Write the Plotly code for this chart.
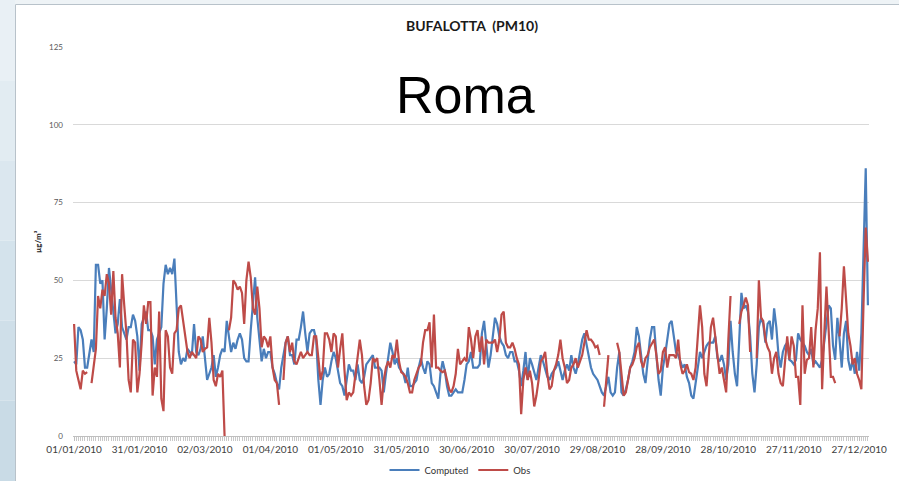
import pandas as pd
import plotly.graph_objects as go

# Daily PM10 concentrations (µg/m³) for 2010 at the Bufalotta station
dates = pd.date_range("2010-01-01", "2010-12-31", freq="D")

computed = [
    # Jan 1 - Feb 11
    24, 23, 35, 34, 31, 22, 22, 27, 31, 27, 55, 55, 49, 50, 31, 41, 54, 47, 39, 33,
    36, 44, 35, 33, 31, 35, 35, 39, 37, 32, 21, 36, 38, 40, 34, 34, 32, 23, 31, 33,
    35, 49,
    # Feb 12 - Mar 31
    55, 52, 54, 52, 57, 42, 27, 23, 25, 24, 28, 27, 26, 36, 27, 26, 28, 32, 25, 18,
    20, 22, 26, 19, 22, 26, 28, 27, 37, 32, 27, 30, 28, 31, 33, 31, 25, 24, 24, 34,
    43, 51, 38, 31, 24, 28, 25, 27,
    # Apr 1 - May 19
    27, 22, 20, 17, 15, 22, 26, 30, 32, 26, 26, 23, 31, 31, 35, 40, 33, 27, 33, 34,
    34, 31, 18, 10, 18, 22, 19, 20, 24, 27, 25, 21, 17, 16, 13, 18, 23, 21, 21, 18,
    23, 18, 17, 19, 23, 24, 25, 26, 22,
    # May 20 - Jul 6
    22, 22, 21, 14, 20, 25, 30, 27, 23, 25, 22, 21, 20, 17, 22, 16, 16, 17, 18, 22,
    25, 22, 20, 24, 23, 17, 16, 14, 12, 20, 24, 21, 16, 13, 13, 14, 15, 14, 14, 14,
    18, 23, 24, 27, 22, 22, 22, 23,
    # Jul 7 - Aug 24
    33, 37, 30, 22, 26, 32, 38, 36, 32, 30, 29, 26, 25, 27, 27, 24, 24, 21, 16, 21,
    27, 18, 25, 23, 20, 18, 22, 26, 24, 21, 19, 18, 20, 21, 22, 24, 21, 18, 21, 23,
    21, 26, 22, 20, 23, 27, 31, 33, 29,
    # Aug 25 - Oct 12
    26, 22, 20, 19, 18, 16, 14, 13, 16, 19, 14, 13, 14, 22, 27, 14, 13, 15, 18, 22,
    24, 27, 35, 32, 26, 20, 17, 24, 31, 35, 35, 26, 18, 13, 22, 26, 31, 36, 37, 31,
    27, 26, 24, 22, 23, 19, 17, 13, 12,
    # Oct 13 - Nov 24
    17, 22, 27, 25, 27, 29, 30, 30, 30, 32, 25, 24, 26, 23, 18, 23, 37, 27, 20, 16,
    31, 46, 41, 42, 40, 32, 20, 14, 23, 35, 38, 36, 30, 36, 37, 31, 41, 35, 26, 22,
    27, 29, 30,
    # Nov 25 - Dec 31
    24.5, 24, 23, 24.5, 33, 31, 30, 29, 27, 26, 28, 23, 24, 23, 22, 24.5, 31, 37, 42, 41,
    29, 24.5, 38, 31, 22, 33, 37, 24.5, 21, 24.5, 20, 27, 21, 33, 57, 86, 42,
]

obs = [
    # Jan 1 - Feb 11
    36, 21, 18, 15, 21, 20, 20.5, None, 17, 22, 28, 45, 41, 47, 45, 52, 49, 39, 53, 38,
    33, 22, 52, 42, 33, 18, 14, 31, 30, 14, 20, 30, 42, 36, 43, 43, 13, 22, 19, 40,
    12, 8,
    # Feb 12 - Mar 31
    34, 32, 22, 20, 33, 34, 41, 42, 37, 32, 27, 25, 27, 26, 25, 32, 31, 27, 28, 28.5,
    38, 30, 18, 16, 20, 19, 21, 0, None, 34, 38, 50, 49, 47, 48, 46, 36, 50, 56, 51,
    41, 39, 48, 41, 28.5, 32, 31, 28.5,
    # Apr 1 - May 19
    32, 22, 18, 17, 10, None, 18, 30, 32, 27, 30, 24, 23, 25, 27, 25, 26, 27, 26, 26,
    32, 32, 25, 18, 21, 33, 33, 31, 27, 33, 32, 22, 28, 33, 21, 11.5, 14, 13, 14, 20,
    26, 31, 26, 16, 10, 11.5, 17, 25, 24,
    # May 20 - Jul 6
    25, 18, 10, 18, 22, 24, 22, 26, 25, 31, 24, 20.5, 20, 19, 17, 14, 14, 18, 20, 22,
    23, 30, 34, 34, 36.5, 22, 39, 22, 22, 21, 20.5, 21, 18, 15, 14, 16, 20, 28, 23, 24,
    25, 24, 35, 31, 25, 32, 34, 27,
    # Jul 7 - Aug 24
    32, 23, 31, 30, 30, 30, 31, 27, 31, 39, 40, 30, 28.5, 28.5, 30, 28, 25, 23, 7, 18,
    22, 18, 21, 17, 9.5, 13, 18, 24, 25, 27, 20, 15, 16, 21, 23, 26, 31, 25, 22, 17,
    18, 22, 23, 25, 22, 24, 26, 30, 34,
    # Aug 25 - Oct 12
    31, 31, 30, 28.5, 29, 26, None, 9.4, 19, 26, None, None, None, 30, 27, 20, 13, 14, 18, 22,
    23, 25, 28.5, 30, 24, 22, 25, 26, 28.5, 30, 31, 26, 20, 21, 27, 28.5, 22, 26, 26, 26,
    25, 31, 23, 20, 21, 23, 20.5, 20, 18,
    # Oct 13 - Nov 24
    22, 32, 42, 35, 20, 16, 26, 35, 38, 31, 26, 20, 22, 18, 14, 31, 45, None, None, None,
    36, 40, 42, 44.5, 42, 27, None, None, 25, 50, 38, 37, 31, 28.5, 27, 20, 25, 27, 20, 17,
    16, 24, 32,
    # Nov 25 - Dec 31
    24.5, 32, 29, 19, 19, 10, 42, 20, 24.5, 25, 35, 22, 34, 41, 59, 15, 33, 48, 34, 19,
    19, 17, None, 32, 41, 54.5, 43, 33, 29, 23, 25, 20, 18, 15, 43, 67, 56,
]

tick_labels = [
    "01/01/2010", "31/01/2010", "02/03/2010", "01/04/2010", "01/05/2010",
    "31/05/2010", "30/06/2010", "30/07/2010", "29/08/2010", "28/09/2010",
    "28/10/2010", "27/11/2010", "27/12/2010",
]
tick_dates = [pd.to_datetime(t, format="%d/%m/%Y") for t in tick_labels]

# Canvas geometry (pixels)
W, H = 899, 481
L, R, T, B = 73, 30, 47, 45


def fx(px):
    return (px - L) / (W - L - R)


def fy(py):
    return (H - B - py) / (H - T - B)


fig = go.Figure()
fig.add_trace(go.Scatter(
    x=dates, y=computed, name="Computed", mode="lines",
    line=dict(color="#4a7ebb", width=2.2), connectgaps=False,
))
fig.add_trace(go.Scatter(
    x=dates, y=obs, name="Obs", mode="lines",
    line=dict(color="#be4b48", width=2.2), connectgaps=False,
))

# slide frame: light blue strip on the left, thin strip on top, grey border
shapes = []
strip_cols = ["#e9f0f5", "#e2ecf2", "#dbe7ef", "#d4e3ec", "#cfdfe9", "#c9dbe6"]
n = len(strip_cols)
for i, c in enumerate(strip_cols):
    shapes.append(dict(type="rect", xref="paper", yref="paper",
                       x0=fx(0), x1=fx(15), y0=fy(H * i / n), y1=fy(H * (i + 1) / n),
                       fillcolor=c, line=dict(width=0), layer="below"))
shapes.append(dict(type="rect", xref="paper", yref="paper",
                   x0=fx(15), x1=fx(W), y0=fy(0), y1=fy(4),
                   fillcolor="#eef3f6", line=dict(width=0), layer="below"))
shapes.append(dict(type="line", xref="paper", yref="paper",
                   x0=fx(15.5), x1=fx(15.5), y0=fy(4.5), y1=fy(H),
                   line=dict(color="#b8c2ca", width=1)))
shapes.append(dict(type="line", xref="paper", yref="paper",
                   x0=fx(15.5), x1=fx(W), y0=fy(4.5), y1=fy(4.5),
                   line=dict(color="#b8c2ca", width=1)))

annotations = [
    dict(text="<b>BUFALOTTA  (PM10)</b>", xref="paper", yref="paper",
         x=fx(472), y=fy(25), xanchor="center", yanchor="middle", showarrow=False,
         font=dict(family="Lato", size=14, color="#1a1a1a")),
    dict(text="Roma", xref="paper", yref="paper",
         x=fx(465), y=fy(95), xanchor="center", yanchor="middle", showarrow=False,
         font=dict(family="Liberation Sans", size=52, color="#000000")),
    dict(text="<b>µg/m³</b>", xref="paper", yref="paper",
         x=fx(38), y=fy(242), xanchor="center", yanchor="middle", showarrow=False,
         textangle=-90, font=dict(family="Lato", size=8, color="#1a1a1a")),
]

fig.update_layout(
    width=W, height=H,
    margin=dict(l=L, r=R, t=T, b=B, autoexpand=False),
    paper_bgcolor="white", plot_bgcolor="white",
    shapes=shapes, annotations=annotations,
    showlegend=True,
    legend=dict(orientation="h", x=fx(460), xanchor="center",
                yref="container", y=1 - 470 / H, yanchor="middle",
                font=dict(family="Lato", size=9.5, color="#333333"),
                bgcolor="rgba(0,0,0,0)", itemwidth=30, tracegroupgap=0),
    font=dict(family="Lato"),
)

fig.update_xaxes(
    range=[pd.Timestamp("2009-12-31 12:00"), pd.Timestamp("2010-12-31 12:00")],
    tickmode="array", tickvals=tick_dates, ticktext=tick_labels,
    tickfont=dict(family="Lato", size=10, color="#404040"),
    ticks="outside", ticklen=4, tickcolor="#bfbfbf",
    minor=dict(dtick=86400000, tick0="2010-01-01", ticks="outside",
               ticklen=4, tickcolor="#c8c8c8", showgrid=False),
    showline=True, linecolor="#bfbfbf", linewidth=1,
    showgrid=False, zeroline=False, automargin=False,
)
fig.update_yaxes(
    range=[0, 125], dtick=25, tick0=0,
    tickfont=dict(family="Lato", size=8, color="#595959"),
    showgrid=True, gridcolor="#d9d9d9", gridwidth=1,
    zeroline=False, showline=False, ticks="", ticklabelstandoff=9,
    automargin=False,
)

fig.write_html("out.html")
